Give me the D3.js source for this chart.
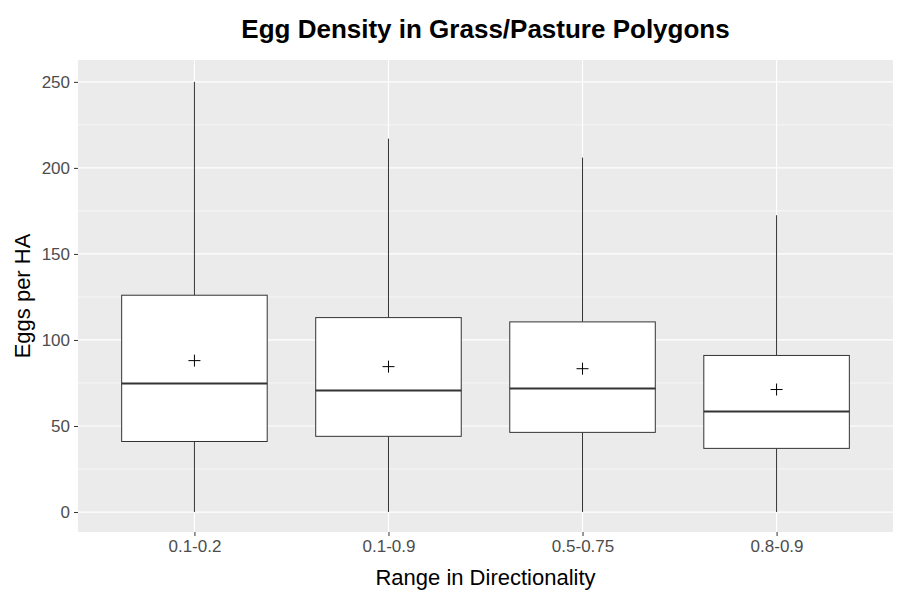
<!DOCTYPE html>
<html>
<head>
<meta charset="utf-8">
<script src="https://cdn.jsdelivr.net/npm/d3@7"></script>
<style>body{margin:0;background:#fff}text{font-family:Arial,"Liberation Sans",sans-serif}</style>
</head>
<body>
<svg id="chart" width="900" height="600"></svg>
<script>
// Box statistics
var categories = ["0.1-0.2", "0.1-0.9", "0.5-0.75", "0.8-0.9"];
var whiskerLow = [0, 0, 0, 0];
var lowerHinge = [41, 44, 46.3, 37];
var medians = [74.7, 70.6, 71.8, 58.4];
var upperHinge = [126, 113, 110.5, 91];
var whiskerHigh = [250, 217, 206, 172.5];
var means = [88, 84.5, 83.3, 71.2];
var yTicks = [0, 50, 100, 150, 200, 250];

var svg = d3.select("#chart");
// "top" is a reserved window property, so use other names
var pLeft = 78, pRight = 893, pTop = 60, pBottom = 532;

var x = d3.scalePoint().domain(categories).range([pLeft, pRight]).padding(0.6);
var y = d3.scaleLinear().domain([-11.6, 262.7]).range([pBottom, pTop]);
var boxW = x.step() * 0.75;

svg.append("rect").attr("x", pLeft).attr("y", pTop)
  .attr("width", pRight - pLeft).attr("height", pBottom - pTop).attr("fill", "#ebebeb");

// minor grid
d3.range(25, 260, 50).forEach(function (v) {
  svg.append("line").attr("x1", pLeft).attr("x2", pRight)
    .attr("y1", y(v)).attr("y2", y(v)).attr("stroke", "#fff").attr("stroke-width", 0.6);
});
yTicks.forEach(function (v) {
  svg.append("line").attr("x1", pLeft).attr("x2", pRight)
    .attr("y1", y(v)).attr("y2", y(v)).attr("stroke", "#fff").attr("stroke-width", 1.2);
});
categories.forEach(function (c) {
  svg.append("line").attr("x1", x(c)).attr("x2", x(c))
    .attr("y1", pTop).attr("y2", pBottom).attr("stroke", "#fff").attr("stroke-width", 1.2);
});

categories.forEach(function (c, i) {
  var cx = x(c);
  var g = svg.append("g").attr("stroke", "#333").attr("stroke-width", 1);
  g.append("line").attr("x1", cx).attr("x2", cx).attr("y1", y(whiskerHigh[i])).attr("y2", y(upperHinge[i]));
  g.append("line").attr("x1", cx).attr("x2", cx).attr("y1", y(lowerHinge[i])).attr("y2", y(whiskerLow[i]));
  g.append("rect").attr("x", cx - boxW / 2).attr("width", boxW)
    .attr("y", y(upperHinge[i])).attr("height", y(lowerHinge[i]) - y(upperHinge[i]))
    .attr("fill", "#fff");
  g.append("line").attr("x1", cx - boxW / 2).attr("x2", cx + boxW / 2)
    .attr("y1", y(medians[i])).attr("y2", y(medians[i])).attr("stroke-width", 2);
  var my = y(means[i]);
  g.append("line").attr("x1", cx - 6).attr("x2", cx + 6).attr("y1", my).attr("y2", my).attr("stroke", "#000");
  g.append("line").attr("x1", cx).attr("x2", cx).attr("y1", my - 6).attr("y2", my + 6).attr("stroke", "#000");
});

// axes
var ya = svg.append("g").attr("transform", "translate(" + pLeft + ",0)")
  .call(d3.axisLeft(y).tickValues(yTicks).tickSize(4).tickPadding(4));
var xa = svg.append("g").attr("transform", "translate(0," + pBottom + ")")
  .call(d3.axisBottom(x).tickSize(4).tickPadding(4));
[ya, xa].forEach(function (a) {
  a.select(".domain").remove();
  a.selectAll(".tick line").attr("stroke", "#333");
  a.selectAll(".tick text").attr("fill", "#4d4d4d").style("font-size", "17px");
});

svg.append("text").attr("x", (pLeft + pRight) / 2).attr("y", 38).attr("text-anchor", "middle")
  .style("font-size", "26px").style("font-weight", "bold").text("Egg Density in Grass/Pasture Polygons");
svg.append("text").attr("x", (pLeft + pRight) / 2).attr("y", 585).attr("text-anchor", "middle")
  .style("font-size", "22px").text("Range in Directionality");
svg.append("text").attr("transform", "translate(30," + (pTop + pBottom) / 2 + ") rotate(-90)")
  .attr("text-anchor", "middle").style("font-size", "22px").text("Eggs per HA");
</script>
</body>
</html>
